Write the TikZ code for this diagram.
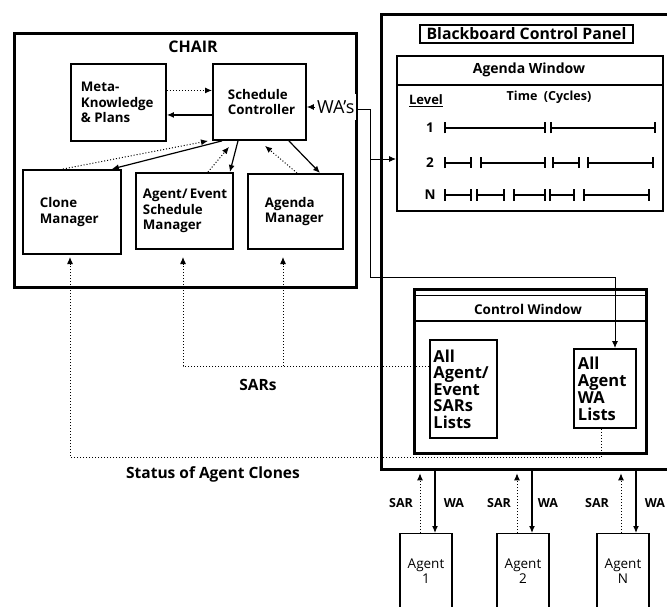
\documentclass[tikz,border=0pt]{standalone}
\usepackage{fontspec}
\setmainfont{Open Sans}
\usetikzlibrary{arrows.meta}
\begin{document}
\begin{tikzpicture}[x=1pt,y=-1pt,
  heavy/.style={draw, line width=3.3pt, inner sep=0pt, anchor=north west},
  mbox/.style={draw, line width=1.9pt, inner sep=0pt, anchor=north west, align=flush left, font=\fontsize{13.3}{15.5}\selectfont\bfseries},
  agentbox/.style={draw, line width=1.1pt, inner sep=0pt, anchor=north, minimum width=52pt, minimum height=76pt, align=center, font=\fontsize{13.5}{15}\selectfont},
  lbl/.style={inner sep=0pt, font=\bfseries\fontsize{12.5}{14}\selectfont},
  small/.style={inner sep=0pt, font=\bfseries\fontsize{12.5}{14}\selectfont},
  solidarrow/.style={line width=1.2pt, -{Latex[length=7pt,width=6pt]}},
  dotarrow/.style={line width=1pt, dash pattern=on 1pt off 2pt, -{Latex[length=7pt,width=6pt]}},
  thinarrow/.style={line width=0.9pt, -{Latex[length=7pt,width=6pt]}},
  seg/.style={line width=1.3pt, {Bar[width=11pt,line width=1.7pt]}-{Bar[width=11pt,line width=1.7pt]}},
]
\path[use as bounding box] (0,0) rectangle (667,607);
\clip (0,0) rectangle (667,607);

% CHAIR
\node[heavy, minimum width=342pt, minimum height=254pt] (chair) at (13,32) {};
\node[lbl, font=\bfseries\fontsize{16}{18}\selectfont] (chairt) at (193,47) {CHAIR};
\node[mbox, minimum width=95pt, minimum height=77pt, text width=75pt] (meta) at (70,63) {Meta-\\Knowledge\\\& Plans};
\node[mbox, minimum width=93pt, minimum height=76pt, text width=63pt] (sc) at (212,63) {Schedule\\Controller};
\node[mbox, minimum width=98pt, minimum height=84pt, text width=64pt] (clone) at (22,169) {Clone\\Manager};
\node[mbox, minimum width=97pt, minimum height=76pt, text width=83pt] (aes) at (135,172) {Agent/~Event\\Schedule\\Manager};
\node[mbox, minimum width=95pt, minimum height=75pt, text width=61pt] (agm) at (247,173) {Agenda\\Manager};

% Blackboard control panel
\node[heavy, minimum width=330pt, minimum height=455pt] (panel) at (380,13) {};
\node[draw, line width=1.8pt, minimum width=213pt, minimum height=18pt, inner sep=0pt, font=\bfseries\fontsize{15.8}{17}\selectfont] (bcp) at (526.5,34) {Blackboard Control Panel};

% Agenda window
\node[draw, line width=2pt, anchor=north west, minimum width=266pt, minimum height=155pt, inner sep=0pt] (aw) at (396,55) {};
\draw[line width=1.6pt] ([yshift=-30pt]aw.north west) -- ([yshift=-30pt]aw.north east);
\node[lbl, font=\bfseries\fontsize{14}{16}\selectfont] (awt) at (529,70) {Agenda Window};
\node[lbl, font=\bfseries\fontsize{13}{15}\selectfont] (lev) at (426,101) {\underline{Level}};
\node[lbl] (time) at (549,97) {Time\ \ (Cycles)};
\node[lbl, font=\bfseries\fontsize{13.5}{15}\selectfont] (r1) at (430,128) {1};
\node[lbl, font=\bfseries\fontsize{13.5}{15}\selectfont] (r2) at (430,163) {2};
\node[lbl, font=\bfseries\fontsize{13.5}{15}\selectfont] (rn) at (430,195) {N};
\draw[seg] (444,128) -- (546,128);
\draw[seg] (550,128) -- (656,128);
\draw[seg] (444,163) -- (472,163);
\draw[seg] (480,163) -- (546,163);
\draw[seg] (552,163) -- (580,163);
\draw[seg] (587,163) -- (654,163);
\draw[seg] (444,195) -- (472,195);
\draw[seg] (476,195) -- (505,195);
\draw[seg] (513,195) -- (546,195);
\draw[seg] (549,195) -- (575,195);
\draw[seg] (583,195) -- (650,195);

% Control window
\node[draw, line width=3pt, anchor=north west, minimum width=232pt, minimum height=164pt, inner sep=0pt] (cw) at (413,288) {};
\draw[line width=0.9pt] ([yshift=-7pt]cw.north west) -- ([yshift=-7pt]cw.north east);
\draw[line width=1.5pt] ([yshift=-33pt]cw.north west) -- ([yshift=-33pt]cw.north east);
\node[lbl, font=\bfseries\fontsize{13.5}{15}\selectfont] (cwt) at (528,309) {Control Window};
\node[mbox, font=\bfseries\fontsize{16.5}{16.5}\selectfont, minimum width=67pt, minimum height=98pt, text width=60pt] (sarl) at (429,339) {All\\Agent/\\Event\\SARs\\Lists};
\node[mbox, font=\bfseries\fontsize{16.5}{17}\selectfont, minimum width=62pt, minimum height=79pt, text width=54pt] (wal) at (573,348) {All\\Agent\\WA\\Lists};

% Agents
\node[agentbox] (ag1) at (426,533) {Agent\\1};
\node[agentbox] (ag2) at (523,533) {Agent\\2};
\node[agentbox] (agn) at (623,533) {Agent\\N};
\draw[dotarrow, shorten >=2pt] ([xshift=-6pt]ag1.north) -- ([xshift=-6pt]ag1.north |- panel.south);
\draw[solidarrow] ([xshift=9pt]ag1.north |- panel.south) -- ([xshift=9pt]ag1.north);
\draw[dotarrow, shorten >=2pt] ([xshift=-6pt]ag2.north) -- ([xshift=-6pt]ag2.north |- panel.south);
\draw[solidarrow] ([xshift=9pt]ag2.north |- panel.south) -- ([xshift=9pt]ag2.north);
\draw[dotarrow, shorten >=2pt] ([xshift=-2pt]agn.north) -- ([xshift=-2pt]agn.north |- panel.south);
\draw[solidarrow] ([xshift=13pt]agn.north |- panel.south) -- ([xshift=13pt]agn.north);
\node[small] (sar1) at (401,503) {SAR};
\node[small] (wa1) at (454,503) {WA};
\node[small] (sar2) at (499,503) {SAR};
\node[small] (wa2) at (548,503) {WA};
\node[small] (sarn) at (597,503) {SAR};
\node[small] (wan) at (655,503) {WA};

% SAR feedback into CHAIR
\coordinate (t1) at (70,257);
\coordinate (t2) at (183,257);
\coordinate (t3) at (283,257);
\coordinate (s1) at (70,457);
\coordinate (s2) at (183,366);
\draw[dotarrow] ([xshift=-3pt]wal.south) |- (s1) -- (t1);
\draw[dotarrow] (sarl.west |- s2) -- (s2) -- (t2);
\draw[dotarrow] (t3 |- s2) -- (t3);
\node[lbl, font=\bfseries\fontsize{15.5}{17}\selectfont] (sars) at (258,385) {SARs};
\node[lbl, font=\bfseries\fontsize{15.5}{17}\selectfont] (status) at (213,474) {Status of Agent Clones};

% CHAIR internal arrows
\draw[dotarrow] ([yshift=12pt]meta.east) -- ([yshift=12pt]meta.east -| sc.west);
\draw[solidarrow] ([yshift=-13pt]sc.west) -- ([yshift=-13pt]sc.west -| meta.east);
\draw[dotarrow] ([xshift=-9pt]clone.north) -- ([xshift=-4pt]sc.south west);
\draw[solidarrow] ([xshift=10pt]sc.south west) -- ([xshift=-10pt]clone.north east);
\draw[dotarrow] ([xshift=73pt]aes.north west) -- ([xshift=17pt,yshift=-6pt]sc.south west);
\draw[solidarrow] ([xshift=26pt]sc.south west) -- ([xshift=-4pt]aes.north east);
\draw[dotarrow] ([xshift=50pt]agm.north west) -- ([xshift=53pt,yshift=-5pt]sc.south west);
\draw[solidarrow] ([xshift=-18pt]sc.south east) -- ([xshift=73pt]agm.north west);

% WA's
\node[fill=white, inner xsep=2pt, inner ysep=6pt, anchor=west, font=\fontsize{18}{20}\selectfont] (was) at (315,107) {WA’s};
\coordinate (j1) at (370,109);
\coordinate (j2) at (370,277);
\coordinate (j3) at (615,277);
\coordinate (j4) at (370,159);
\draw[thinarrow] (was.west) -- (was.west -| sc.east);
\draw[thinarrow] ([yshift=-2pt]was.east) -- (j1) -- (j2) -- (j3) -- (j3 |- wal.north);
\draw[thinarrow] (j4) -- (j4 -| aw.west);
\end{tikzpicture}
\end{document}
